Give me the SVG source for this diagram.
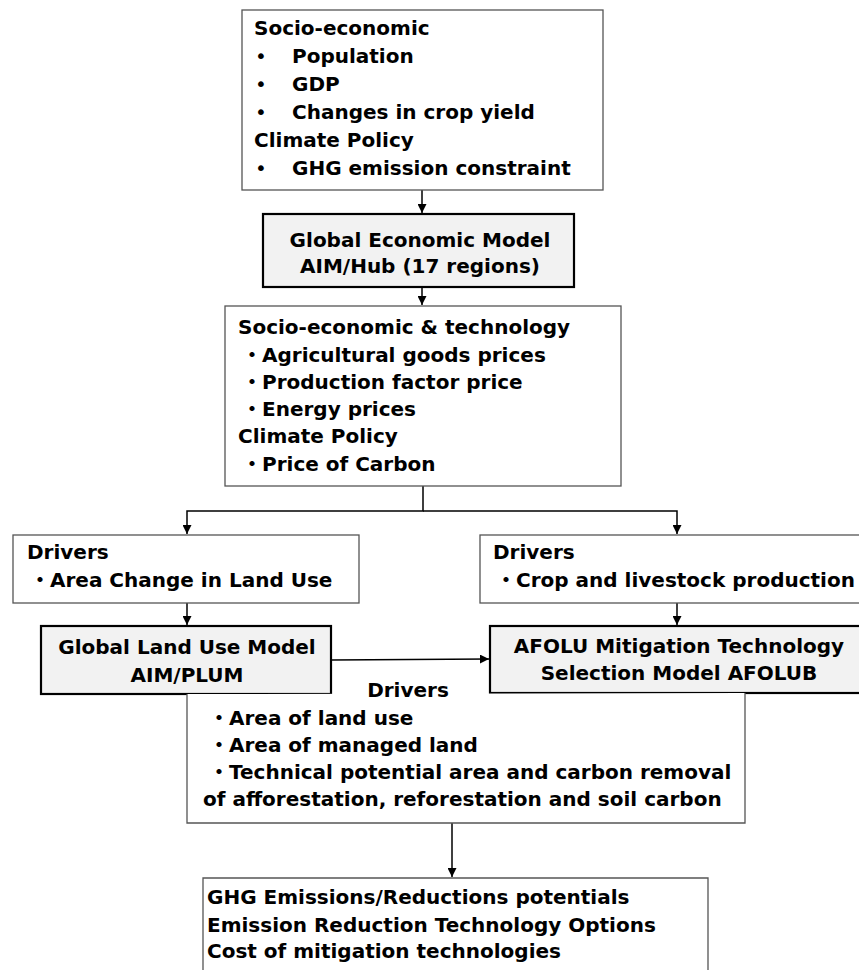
<svg xmlns="http://www.w3.org/2000/svg" width="859" height="970" viewBox="0 0 859 970">
<defs>
<style>
text{font-family:"DejaVu Sans","Noto Sans CJK JP",sans-serif;font-weight:bold;font-size:20px;fill:#000}
.c{text-anchor:middle}
.b{font-weight:normal}
.box{fill:#fff;stroke:#555;stroke-width:1.3}
.model{fill:#f2f2f2;stroke:#000;stroke-width:2.2}
.conn{fill:none;stroke:#000;stroke-width:1.5}
</style>
<marker id="ah" viewBox="0 0 10 10" refX="10" refY="5" markerWidth="9" markerHeight="9" markerUnits="userSpaceOnUse" orient="auto">
<path d="M0,0 L10,5 L0,10 z" fill="#000"/>
</marker>
</defs>

<g id="connectors">
<line class="conn" x1="422" y1="190" x2="422" y2="213" marker-end="url(#ah)"/>
<line class="conn" x1="422" y1="287" x2="422" y2="305" marker-end="url(#ah)"/>
<polyline class="conn" points="423,486 423,511 187,511 187,534" marker-end="url(#ah)"/>
<polyline class="conn" points="423,511 677,511 677,534" marker-end="url(#ah)"/>
<line class="conn" x1="187" y1="603" x2="187" y2="625" marker-end="url(#ah)"/>
<line class="conn" x1="677" y1="603" x2="677" y2="625" marker-end="url(#ah)"/>
<line class="conn" x1="331" y1="660" x2="489" y2="659" marker-end="url(#ah)"/>
<line class="conn" x1="452" y1="823" x2="452" y2="877" marker-end="url(#ah)"/>
</g>

<g id="inputs">
<rect class="box" x="242" y="10" width="361" height="180"/>
<text x="254" y="35">Socio-economic</text>
<text><tspan class="b" x="255" y="63">•</tspan><tspan x="292" y="63">Population</tspan></text>
<text><tspan class="b" x="255" y="91">•</tspan><tspan x="292" y="91">GDP</tspan></text>
<text><tspan class="b" x="255" y="119">•</tspan><tspan x="292" y="119">Changes in crop yield</tspan></text>
<text x="254" y="147">Climate Policy</text>
<text><tspan class="b" x="255" y="175">•</tspan><tspan x="292" y="175">GHG emission constraint</tspan></text>
</g>

<g id="global-economic-model">
<rect class="model" x="263" y="214" width="311" height="73"/>
<text class="c" x="420" y="247">Global Economic Model</text>
<text class="c" x="420" y="273">AIM/Hub (17 regions)</text>
</g>

<g id="hub-outputs">
<rect class="box" x="225" y="306" width="396" height="180"/>
<text x="238" y="334">Socio-economic &amp; technology</text>
<text><tspan x="242" y="362">・</tspan><tspan x="262" y="362">Agricultural goods prices</tspan></text>
<text><tspan x="242" y="389">・</tspan><tspan x="262" y="389">Production factor price</tspan></text>
<text><tspan x="242" y="416">・</tspan><tspan x="262" y="416">Energy prices</tspan></text>
<text x="238" y="443">Climate Policy</text>
<text><tspan x="242" y="471">・</tspan><tspan x="262" y="471">Price of Carbon</tspan></text>
</g>

<g id="drivers-left">
<rect class="box" x="13" y="535" width="346" height="68"/>
<text x="27" y="559">Drivers</text>
<text><tspan x="30" y="587">・</tspan><tspan x="50" y="587">Area Change in Land Use</tspan></text>
</g>

<g id="drivers-right">
<rect class="box" x="480" y="535" width="400" height="68"/>
<text x="493" y="559">Drivers</text>
<text><tspan x="496" y="587">・</tspan><tspan x="516" y="587">Crop and livestock production</tspan></text>
</g>

<g id="global-land-use-model">
<rect class="model" x="41" y="626" width="290" height="68"/>
<text class="c" x="187" y="654">Global Land Use Model</text>
<text class="c" x="187" y="682">AIM/PLUM</text>
</g>

<g id="afolub">
<rect class="model" x="490" y="626" width="400" height="67"/>
<text class="c" x="679" y="653">AFOLU Mitigation Technology</text>
<text class="c" x="679" y="680">Selection Model AFOLUB</text>
</g>

<g id="drivers-bottom">
<polyline class="box" fill="none" points="187,694 187,823 745,823 745,693"/>
<text class="c" x="408" y="697">Drivers</text>
<text><tspan x="209" y="725">・</tspan><tspan x="229" y="725">Area of land use</tspan></text>
<text><tspan x="209" y="752">・</tspan><tspan x="229" y="752">Area of managed land</tspan></text>
<text><tspan x="209" y="779">・</tspan><tspan x="229" y="779">Technical potential area and carbon removal</tspan></text>
<text x="203" y="806">of afforestation, reforestation and soil carbon</text>
</g>

<g id="outputs">
<polyline class="box" fill="none" points="203,980 203,878 708,878 708,980"/>
<text x="207" y="904">GHG Emissions/Reductions potentials</text>
<text x="207" y="932">Emission Reduction Technology Options</text>
<text x="207" y="958">Cost of mitigation technologies</text>
</g>
</svg>
